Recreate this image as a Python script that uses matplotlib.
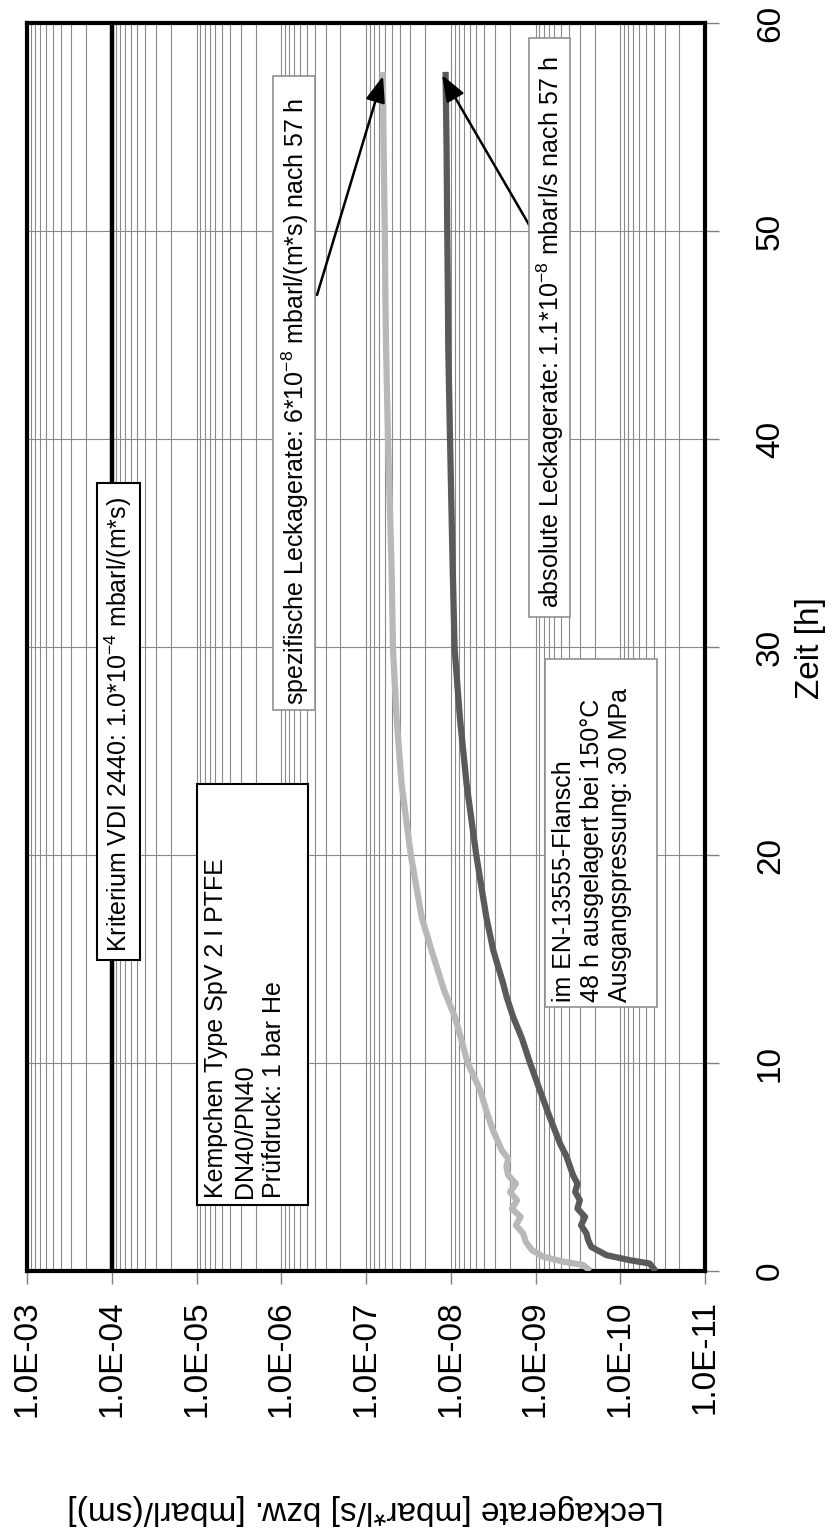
import numpy as np
import matplotlib
matplotlib.use("Agg")
import matplotlib.pyplot as plt
from matplotlib.ticker import LogLocator, FixedLocator, NullFormatter
from matplotlib.patches import Rectangle
from matplotlib.transforms import Affine2D

plt.rcParams['font.family'] = ['Liberation Sans', 'DejaVu Sans']
plt.rcParams['mathtext.fontset'] = 'custom'
plt.rcParams['mathtext.rm'] = 'Liberation Sans'
plt.rcParams['mathtext.it'] = 'Liberation Sans:italic'
plt.rcParams['mathtext.bf'] = 'Liberation Sans:bold'

# ---------------- data ----------------
t_spez = [0.1, 0.29, 0.45, 0.69, 1.0, 1.4, 1.8, 2.2, 2.6, 3.0, 3.4, 3.8, 4.2,
          4.6, 5.0, 5.4, 5.8, 6.8, 7.7, 8.7, 10.0, 11.2, 12.2, 13.5, 15.4,
          17.0, 20.0, 23.4, 26.6, 29.9, 33.9, 40.0, 44.4, 46.7, 50.0, 54.0, 57.5]
v_spez = [2.4e-10, 2.75e-10, 4.7e-10, 8.1e-10, 1.1e-9, 1.3e-9, 1.4e-9, 1.7e-9,
          1.5e-9, 1.9e-9, 1.65e-9, 2.0e-9, 1.7e-9, 2.1e-9, 2.2e-9, 2.1e-9,
          2.5e-9, 3.2e-9, 3.8e-9, 4.5e-9, 6.3e-9, 7.6e-9, 8.9e-9, 1.2e-8,
          1.68e-8, 2.2e-8, 2.96e-8, 3.8e-8, 4.36e-8, 4.8e-8, 5.0e-8, 5.5e-8,
          5.8e-8, 5.9e-8, 6.0e-8, 6.2e-8, 6.35e-8]

t_abs = [0.1, 0.36, 0.52, 0.76, 1.16, 1.5, 1.8, 2.2, 2.6, 3.0, 3.4, 3.8, 4.2,
         4.6, 5.0, 5.5, 6.1, 7.4, 8.7, 10.0, 11.2, 12.2, 13.2, 13.8, 15.4,
         17.0, 20.0, 23.4, 26.6, 29.9, 33.9, 40.0, 44.4, 46.7, 50.0, 54.0, 57.5]
v_abs = [4.0e-11, 4.5e-11, 7.7e-11, 1.45e-10, 2.2e-10, 2.4e-10, 2.5e-10,
         2.9e-10, 2.6e-10, 3.2e-10, 3.0e-10, 3.4e-10, 3.2e-10, 3.6e-10,
         3.9e-10, 4.3e-10, 5.1e-10, 6.8e-10, 8.9e-10, 1.16e-9, 1.45e-9,
         1.83e-9, 2.2e-9, 2.4e-9, 3.14e-9, 3.8e-9, 5.0e-9, 6.5e-9, 7.8e-9,
         9.0e-9, 9.5e-9, 1.02e-8, 1.07e-8, 1.08e-8, 1.1e-8, 1.12e-8, 1.15e-8]

kriterium = 1.0e-4
leak_ticks = [1e-3, 1e-4, 1e-5, 1e-6, 1e-7, 1e-8, 1e-9, 1e-10, 1e-11]
leak_labels = ["1.0E-03", "1.0E-04", "1.0E-05", "1.0E-06", "1.0E-07",
               "1.0E-08", "1.0E-09", "1.0E-10", "1.0E-11"]
time_ticks = [0, 10, 20, 30, 40, 50, 60]
time_labels = ["0", "10", "20", "30", "40", "50", "60"]

# ---------------- figure ----------------
W, H = 833, 1534
fig = plt.figure(figsize=(W / 100, H / 100), dpi=100)
fig.patch.set_facecolor('white')
pix = Affine2D().scale(1 / W, -1 / H).translate(0, 1) + fig.transFigure

L, R, T, B = 27, 705, 23, 1271
ax = fig.add_axes([L / W, 1 - B / H, (R - L) / W, (B - T) / H])
ax.set_xscale('log')
ax.set_xlim(1e-3, 1e-11)
ax.set_ylim(0, 60)

ax.xaxis.set_major_locator(FixedLocator(leak_ticks))
ax.xaxis.set_minor_locator(LogLocator(base=10, subs=np.arange(2, 10), numticks=200))
ax.xaxis.set_minor_formatter(NullFormatter())
ax.set_xticklabels(leak_labels, rotation=90, fontsize=24)
ax.yaxis.tick_right()
ax.set_yticks(time_ticks)
ax.set_yticklabels(time_labels, rotation=90, fontsize=24, va='center', ha='left')

ax.tick_params(axis='x', which='major', direction='out', length=9, width=1,
               color='#808080', pad=12)
ax.tick_params(axis='x', which='minor', length=0)
ax.tick_params(axis='y', which='major', direction='out', length=10, width=1,
               color='#808080', pad=26)

ax.grid(True, axis='x', which='both', color='#8a8a8a', lw=0.8)
ax.grid(True, axis='y', which='major', color='#8a8a8a', lw=0.8)
ax.set_axisbelow(True)
for s in ax.spines.values():
    s.set_linewidth(3)
    s.set_color('black')

ax.axvline(kriterium, color='black', lw=3.2, zorder=2)

ax.plot(v_spez, t_spez, color='#b8b8b8', lw=4.5, zorder=3, solid_joinstyle='round')
ax.plot(v_abs, t_abs, color='#5a5a5a', lw=4.5, zorder=3, solid_joinstyle='round')

# ---------------- annotation boxes ----------------
def box(x0, y0, x1, y1, ec, lw):
    r = Rectangle((x0, y1), x1 - x0, y0 - y1, transform=pix, facecolor='white',
                  edgecolor=ec, lw=lw, zorder=4, clip_on=False)
    fig.add_artist(r)

box(97, 483, 140, 960, 'black', 1.5)
box(197, 784, 308, 1205, 'black', 1.5)
box(545, 659, 657, 1007, '#909090', 1.2)
box(273, 76, 315, 710, '#909090', 1.2)
box(529, 38, 570, 617, '#909090', 1.2)

fs = 18
fig.text(118.5, 952, "Kriterium VDI 2440: 1.0*10$^{\\mathrm{-4}}$ mbarl/(m*s)",
         transform=pix, rotation=90, fontsize=fs, ha='center', va='bottom', zorder=5)
fig.text(245, 1198, "Kempchen Type SpV 2 I PTFE\nDN40/PN40\nPrüfdruck: 1 bar He",
         transform=pix, rotation=90, fontsize=fs, ha='center', va='bottom',
         multialignment='left', linespacing=1.25, zorder=5)
fig.text(592, 1002, "im EN-13555-Flansch\n48 h ausgelagert bei 150°C\nAusgangspressung: 30 MPa",
         transform=pix, rotation=90, fontsize=fs, ha='center', va='bottom',
         multialignment='left', linespacing=1.2, zorder=5)
fig.text(295, 705, "spezifische Leckagerate: 6*10$^{\\mathrm{-8}}$ mbarl/(m*s) nach 57 h",
         transform=pix, rotation=90, fontsize=fs, ha='center', va='bottom', zorder=5)
fig.text(550, 608, "absolute Leckagerate: 1.1*10$^{\\mathrm{-8}}$ mbarl/s nach 57 h",
         transform=pix, rotation=90, fontsize=fs, ha='center', va='bottom', zorder=5)

arrow = dict(arrowstyle='-|>,head_length=0.8,head_width=0.3', color='black',
             lw=1.8, shrinkA=0, shrinkB=0, mutation_scale=20)
ax.annotate("", xy=(383, 76), xycoords=pix, xytext=(317, 295), textcoords=pix,
            arrowprops=arrow, zorder=6, annotation_clip=False)
ax.annotate("", xy=(442, 75), xycoords=pix, xytext=(535, 235), textcoords=pix,
            arrowprops=arrow, zorder=6, annotation_clip=False)

# ---------------- axis titles ----------------
fig.text(811, 648, "Zeit [h]", transform=pix, rotation=90, fontsize=24,
         ha='center', va='center')
fig.text(366, 1510, "Leckagerate [mbar*l/s] bzw. [mbarl/(sm)]", transform=pix,
         rotation=180, fontsize=24, ha='center', va='center')

fig.savefig("out.png", dpi=100, facecolor='white')
